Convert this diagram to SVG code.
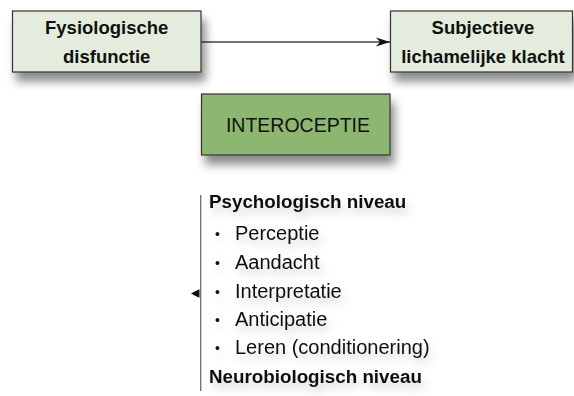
<svg xmlns="http://www.w3.org/2000/svg" width="574" height="396" viewBox="0 0 574 396">
<style>
text{font-family:"Liberation Sans",Arial,sans-serif;fill:#111;}
.box{stroke:#333;stroke-width:1.2;}
.light{fill:#e4eddd;}
.green{fill:#8db770;}
.t{font-size:18.5px;text-anchor:middle;font-weight:bold;}
.c{font-size:19.5px;text-anchor:middle;}
.h{font-size:18.8px;font-weight:bold;}
.i{font-size:20px;}
.b{font-size:14px;}
.con{stroke:#444;stroke-width:1.3;fill:none;}
.vl{stroke:#777;stroke-width:1.4;fill:none;}
</style>
<defs>
<filter id="sh" x="-20%" y="-30%" width="150%" height="190%">
<feDropShadow dx="4" dy="9" stdDeviation="5" flood-color="#000" flood-opacity="0.45"/>
</filter>
<filter id="tsh" x="-10%" y="-50%" width="130%" height="250%">
<feDropShadow dx="3" dy="6" stdDeviation="4" flood-color="#000" flood-opacity="0.18"/>
</filter>
<marker id="ah" viewBox="0 0 14 10" refX="14" refY="5" markerWidth="14" markerHeight="10" markerUnits="userSpaceOnUse" orient="auto">
<path d="M0,0.5 L14,5 L0,9.5 L4,5 z" fill="#111"/>
</marker>
</defs>
<g id="connectors">
<line class="con" x1="201" y1="42" x2="390" y2="42" marker-end="url(#ah)"/>
<line class="vl" x1="200.7" y1="195" x2="200.7" y2="391"/>
<path d="M191,293.5 Q195,291 199.5,289.3 L199.5,297.7 Q195,296 191,293.5 z" fill="#111"/>
</g>
<g id="node-fysiologische">
<rect class="box light" x="12.5" y="11" width="188.5" height="61" filter="url(#sh)"/>
<text class="t" x="106.7" y="33.5">Fysiologische</text>
<text class="t" x="106.7" y="63">disfunctie</text>
</g>
<g id="node-subjectieve">
<rect class="box light" x="390.5" y="11" width="182" height="61" filter="url(#sh)"/>
<text class="t" x="483" y="33.5">Subjectieve</text>
<text class="t" x="483" y="63">lichamelijke klacht</text>
</g>
<g id="node-interoceptie">
<rect class="box green" x="201.5" y="94" width="188.5" height="61" filter="url(#sh)"/>
<text class="c" x="298" y="131.5">INTEROCEPTIE</text>
</g>
<g id="node-niveaus" filter="url(#tsh)">
<text class="h" x="209" y="208">Psychologisch niveau</text>
<text class="b" x="215" y="238.5">•</text><text class="i" x="235" y="240">Perceptie</text>
<text class="b" x="215" y="267.5">•</text><text class="i" x="235" y="269">Aandacht</text>
<text class="b" x="215" y="296.5">•</text><text class="i" x="235" y="298">Interpretatie</text>
<text class="b" x="215" y="324.5">•</text><text class="i" x="235" y="326">Anticipatie</text>
<text class="b" x="215" y="352.5">•</text><text class="i" x="235" y="354">Leren (conditionering)</text>
<text class="h" x="209" y="383">Neurobiologisch niveau</text>
</g>
</svg>
